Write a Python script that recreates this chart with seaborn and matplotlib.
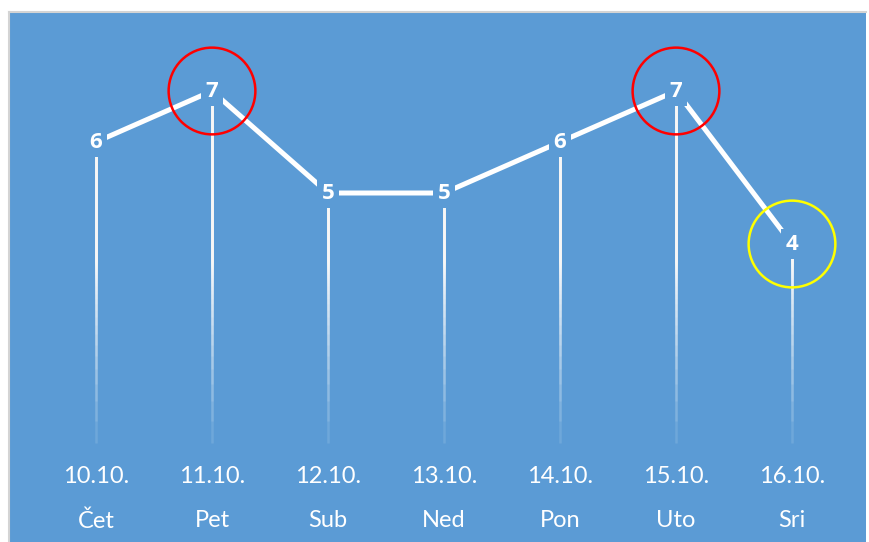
import numpy as np
import pandas as pd
import seaborn as sns
import matplotlib.pyplot as plt

dates = ["10.10.", "11.10.", "12.10.", "13.10.", "14.10.", "15.10.", "16.10."]
days = ["Čet", "Pet", "Sub", "Ned", "Pon", "Uto", "Sri"]
values = [6, 7, 5, 5, 6, 7, 4]
# points that get a ring drawn around them
ring_idx = [1, 5, 6]
ring_colors = ["#ff0000", "#ff0000", "#ffff00"]

blue = "#5b9bd5"

sns.set_style("white")
plt.rcParams["font.family"] = ["Lato", "DejaVu Sans"]

df = pd.DataFrame({"x": range(len(values)), "value": values})

fig = plt.figure(figsize=(8.7, 5.42), dpi=100)
ax = fig.add_axes([9 / 870, 0, (866 - 9) / 870, (542 - 12) / 542])
ax.set_facecolor(blue)

# drop lines, fading out toward the bottom: stacked translucent lines,
# start heights spaced so the built-up opacity grows about linearly
a = 0.12
k = np.arange(36)
starts = 0.1 + 3.6 * (1 - (1 - a) ** k)
x_idx = np.arange(len(values))
for s in starts:
    ax.vlines(x_idx, s, values, colors="white", alpha=a, linewidth=1.8, zorder=2)

sns.lineplot(data=df, x="x", y="value", color="white", linewidth=3.6, ax=ax, zorder=3)

for i, v in enumerate(values):
    ax.text(i, v, str(v), ha="center", va="center", color="white",
            fontsize=16, fontweight="bold", family=["Open Sans", "DejaVu Sans"],
            zorder=4, bbox=dict(boxstyle="square,pad=0.2", fc=blue, ec="none"))

for i, c in zip(ring_idx, ring_colors):
    ax.scatter([i], [values[i]], s=3900, facecolors="none", edgecolors=c,
               linewidths=1.8, zorder=5)

for i in range(len(dates)):
    ax.text(i, -0.55, dates[i], ha="center", va="center", color="white", fontsize=17)
    ax.text(i, -1.43, days[i], ha="center", va="center", color="white", fontsize=17)

ax.set_xlim(-0.75, 6.638)
ax.set_ylim(-1.843, 8.549)
ax.set_xticks([])
ax.set_yticks([])
ax.set_xlabel("")
ax.set_ylabel("")
for side in ["right", "bottom"]:
    ax.spines[side].set_visible(False)
for side in ["top", "left"]:
    ax.spines[side].set_color("#d4d4d4")
    ax.spines[side].set_linewidth(1.5)

fig.savefig("out.png", dpi=100, facecolor="white")
